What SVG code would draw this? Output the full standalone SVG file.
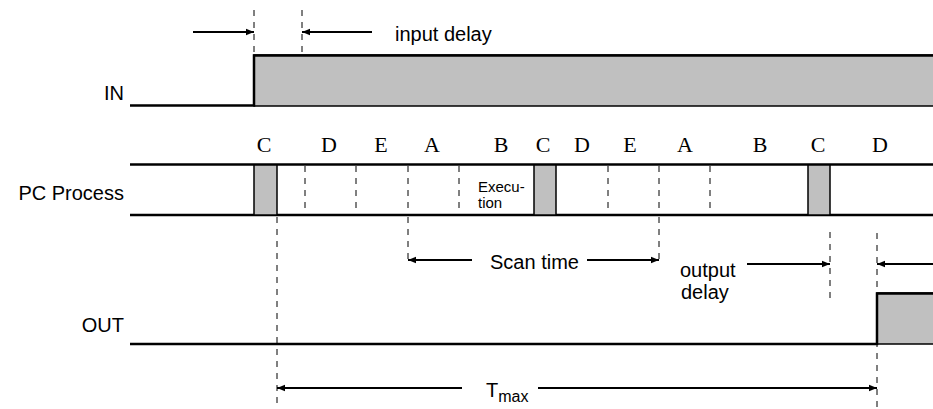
<svg xmlns="http://www.w3.org/2000/svg" width="933" height="409" viewBox="0 0 933 409">
<style>
.sig{fill:none;stroke:#000;stroke-width:2.5}
.fill{fill:#c0c0c0;stroke:#000;stroke-width:1.5}
.dash{fill:none;stroke:#000;stroke-width:1;stroke-dasharray:6,6}
.arr{fill:none;stroke:#000;stroke-width:2}
.lbl{font-family:"Liberation Sans",Arial,sans-serif;font-size:20px;fill:#000}
.ph{font-family:"Liberation Serif","Times New Roman",serif;font-size:22px;fill:#000;text-anchor:middle}
.sm{font-family:"Liberation Sans",Arial,sans-serif;font-size:15px;fill:#000}
</style>
<defs>
<marker id="ahb" viewBox="0 0 10 10" refX="10" refY="5" markerWidth="10" markerHeight="8" orient="auto-start-reverse" markerUnits="userSpaceOnUse">
<path d="M0,1 L10,5 L0,9 Z" fill="#000"/>
</marker>
</defs>

<g id="in">
<text class="lbl" x="124" y="100" text-anchor="end">IN</text>
<rect class="fill" x="254" y="55" width="690" height="51" stroke="none"/>
<path class="sig" d="M130,105.5 H254 V55.5 H933"/>
</g>

<g id="pc">
<text class="lbl" x="124" y="200" text-anchor="end">PC Process</text>
<line class="sig" x1="130" y1="164.5" x2="933" y2="164.5"/>
<line class="sig" x1="130" y1="215" x2="933" y2="215"/>
<rect class="fill" x="254" y="165" width="23" height="50"/>
<rect class="fill" x="534" y="165" width="22" height="50"/>
<rect class="fill" x="808" y="165" width="22" height="50"/>
<g class="dash">
<line x1="305" y1="166" x2="305" y2="214"/>
<line x1="356" y1="166" x2="356" y2="214"/>
<line x1="408" y1="166" x2="408" y2="214"/>
<line x1="459" y1="166" x2="459" y2="214"/>
<line x1="608" y1="166" x2="608" y2="214"/>
<line x1="659" y1="166" x2="659" y2="214"/>
<line x1="710" y1="166" x2="710" y2="214"/>
</g>
<text class="ph" x="264" y="152">C</text>
<text class="ph" x="329" y="152">D</text>
<text class="ph" x="381" y="152">E</text>
<text class="ph" x="432" y="152">A</text>
<text class="ph" x="501" y="152">B</text>
<text class="ph" x="543" y="152">C</text>
<text class="ph" x="582" y="152">D</text>
<text class="ph" x="630" y="152">E</text>
<text class="ph" x="685" y="152">A</text>
<text class="ph" x="760" y="152">B</text>
<text class="ph" x="818" y="152">C</text>
<text class="ph" x="880" y="152">D</text>
<text class="sm" x="478" y="192">Execu-</text>
<text class="sm" x="478" y="208">tion</text>
</g>

<g id="out">
<text class="lbl" x="124" y="332" text-anchor="end">OUT</text>
<rect class="fill" x="877" y="293" width="60" height="51" stroke="none"/>
<path class="sig" d="M130,344 H877 V293.5 H933"/>
</g>

<g id="connectors">
<g class="dash">
<line x1="254" y1="10" x2="254" y2="55"/>
<line x1="302" y1="10" x2="302" y2="55"/>
<line x1="277" y1="217" x2="277" y2="408"/>
<line x1="408" y1="217" x2="408" y2="265"/>
<line x1="659" y1="217" x2="659" y2="265"/>
<line x1="830" y1="232" x2="830" y2="302"/>
<line x1="877" y1="233" x2="877" y2="409"/>
</g>
<line class="arr" x1="193" y1="32" x2="254" y2="32" marker-end="url(#ahb)"/>
<line class="arr" x1="372" y1="32" x2="302" y2="32" marker-end="url(#ahb)"/>
<line class="arr" x1="472" y1="260" x2="408" y2="260" marker-end="url(#ahb)"/>
<line class="arr" x1="587" y1="260" x2="659" y2="260" marker-end="url(#ahb)"/>
<line class="arr" x1="747" y1="264" x2="830" y2="264" marker-end="url(#ahb)"/>
<line class="arr" x1="933" y1="264" x2="877" y2="264" marker-end="url(#ahb)"/>
<line class="arr" x1="462" y1="388" x2="277" y2="388" marker-end="url(#ahb)"/>
<line class="arr" x1="538" y1="388" x2="877" y2="388" marker-end="url(#ahb)"/>
</g>

<g id="labels">
<text class="lbl" x="395" y="41">input delay</text>
<text class="lbl" x="490" y="269">Scan time</text>
<text class="lbl" x="680" y="277">output</text>
<text class="lbl" x="681" y="299">delay</text>
<text class="lbl" x="486" y="397">T<tspan font-size="16" dy="5">max</tspan></text>
</g>
</svg>
